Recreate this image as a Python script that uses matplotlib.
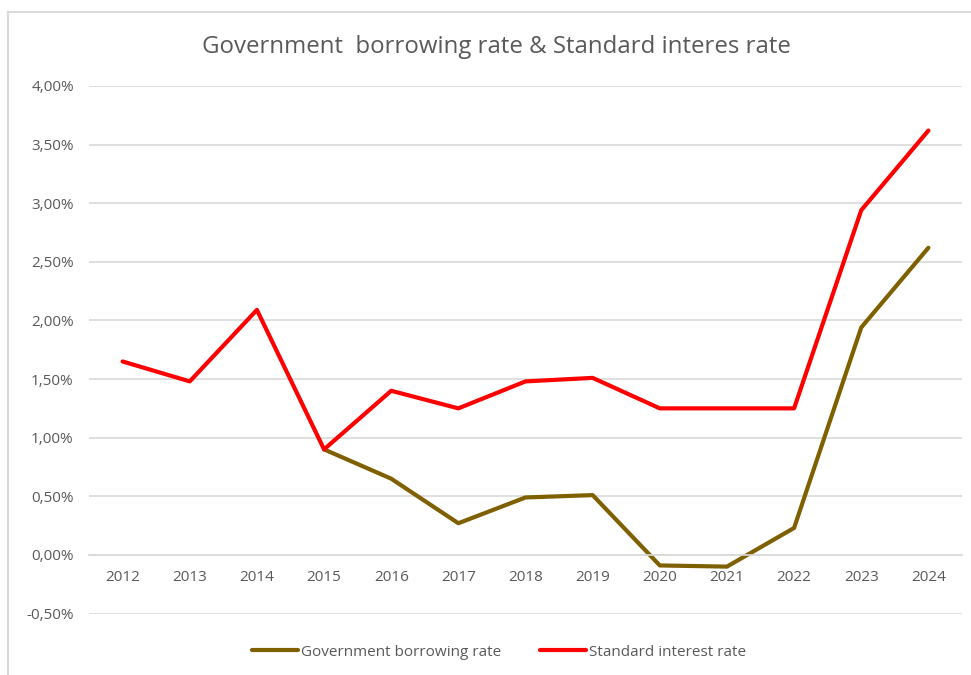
import matplotlib.pyplot as plt
from matplotlib.lines import Line2D
from matplotlib.ticker import FuncFormatter

years = ["2012", "2013", "2014", "2015", "2016", "2017", "2018",
         "2019", "2020", "2021", "2022", "2023", "2024"]
# values in percent; None = no data
gov_rate = [None, None, None, 0.90, 0.65, 0.27, 0.49, 0.51, -0.09, -0.10, 0.23, 1.94, 2.62]
std_rate = [1.65, 1.48, 2.09, 0.90, 1.40, 1.25, 1.48, 1.51, 1.25, 1.25, 1.25, 2.94, 3.62]

plt.rcParams['font.family'] = ['Open Sans', 'DejaVu Sans']
grey = '#595959'

fig = plt.figure(figsize=(9.71, 6.75), dpi=100)
ax = fig.add_axes([0.0917, 0.0911, 0.899, 0.7815])

x = list(range(len(years)))
gx = [i for i, v in zip(x, gov_rate) if v is not None]
gy = [v for v in gov_rate if v is not None]
ax.plot(gx, gy, color='#7F6000', lw=3, solid_capstyle='round',
        label='Government borrowing rate')
ax.plot(x, std_rate, color='#FF0000', lw=3, solid_capstyle='round',
        label='Standard interest rate')

ax.set_xlim(-0.5, len(years) - 0.5)
ax.set_ylim(-0.5, 4.0)
ax.set_yticks([i * 0.5 for i in range(-1, 9)])
ax.yaxis.set_major_formatter(FuncFormatter(lambda v, p: f"{v:.2f}%".replace('.', ',')))
ax.set_xticks(x)
ax.set_xticklabels(years)
ax.grid(axis='y', color='#D9D9D9', lw=1.2)
ax.set_axisbelow(True)
for s in ['top', 'right', 'left']:
    ax.spines[s].set_visible(False)
ax.spines['bottom'].set_position(('data', 0))
ax.spines['bottom'].set_color('#D9D9D9')
ax.spines['bottom'].set_linewidth(1.2)
ax.tick_params(axis='both', length=0, colors=grey, labelsize=11)
ax.tick_params(axis='x', pad=11)
ax.tick_params(axis='y', pad=11)

fig.text(0.511, 0.931, "Government  borrowing rate & Standard interes rate",
         ha='center', va='center', fontsize=17.3, color=grey)

leg = fig.legend(loc='center', bbox_to_anchor=(0.514, 0.034), ncol=2,
                 frameon=False, fontsize=11, handlelength=3.0,
                 handletextpad=0.2, columnspacing=2.5)
for t in leg.get_texts():
    t.set_color(grey)

# chart area border (top and left edges visible)
fig.add_artist(Line2D([8 / 971, 1], [1 - 12 / 675] * 2, color='#D9D9D9', lw=1.5))
fig.add_artist(Line2D([8 / 971] * 2, [0, 1 - 12 / 675], color='#D9D9D9', lw=1.5))

fig.savefig('out.png', dpi=100)
